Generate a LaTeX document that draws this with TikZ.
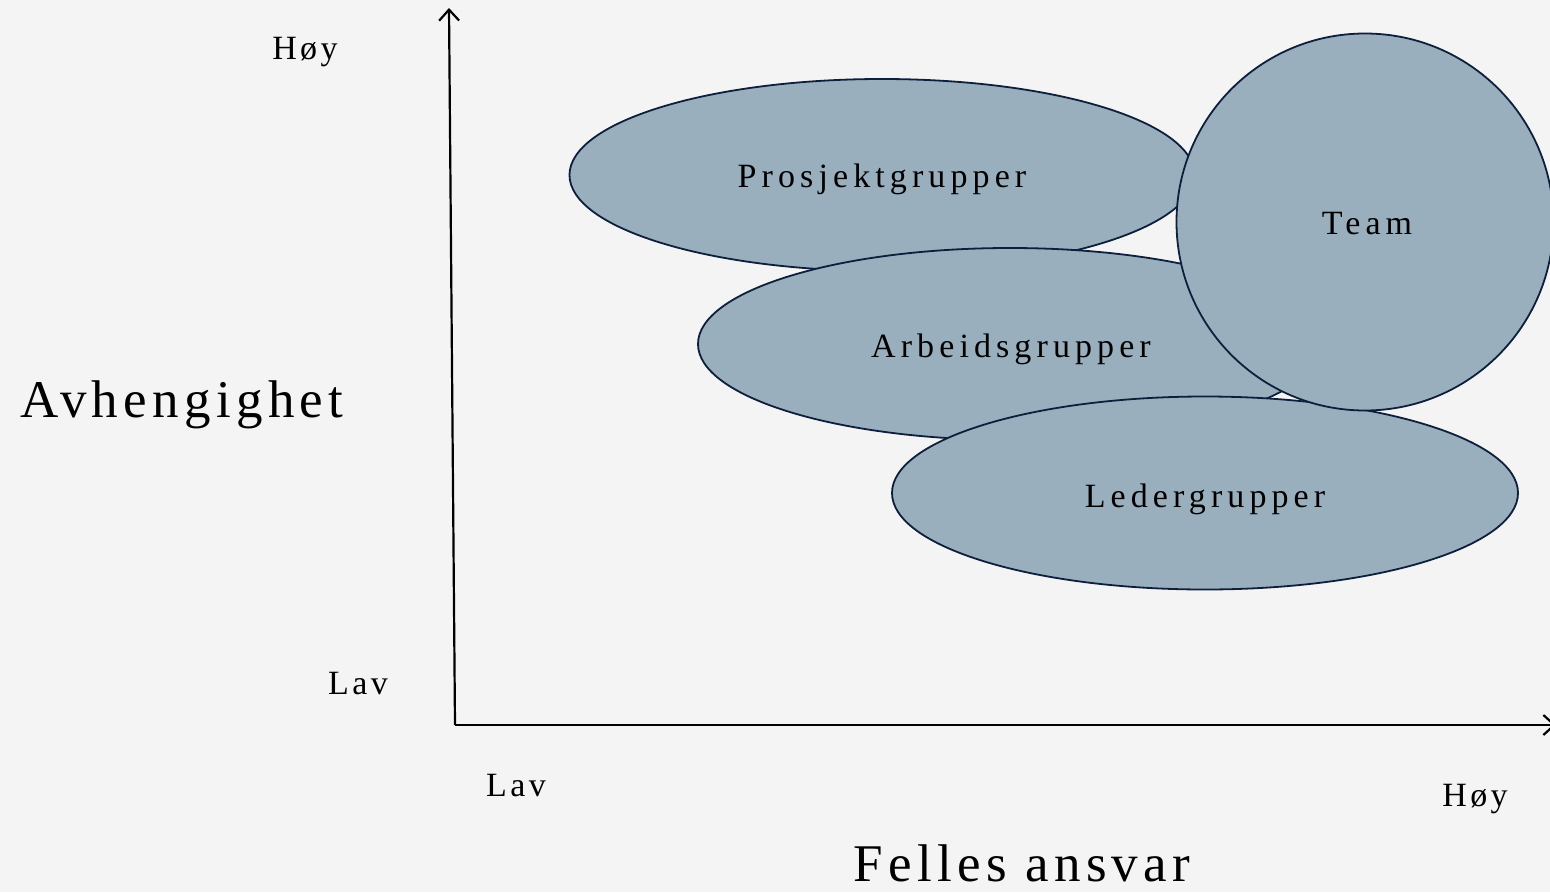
\documentclass[tikz,border=0pt]{standalone}
\usepackage{fontspec}
\setmainfont{Liberation Serif}
\usetikzlibrary{shapes.geometric,arrows.meta}
\definecolor{bg}{HTML}{F4F4F4}
\definecolor{blobfill}{HTML}{9AAFBD}
\definecolor{blobline}{HTML}{0D1F3C}
\tikzset{
  blob/.style={ellipse, draw=blobline, fill=blobfill, line width=1.8pt, inner sep=0pt},
  bloblbl/.style={anchor=base, inner sep=0pt, font=\fontsize{34}{40}\selectfont\addfontfeature{LetterSpace=15}},
  axislbl/.style={anchor=base, inner sep=0pt, font=\fontsize{34}{40}\selectfont\addfontfeature{LetterSpace=10}},
  bigtitle/.style={anchor=base, inner sep=0pt, font=\fontsize{53}{60}\selectfont\addfontfeature{LetterSpace=10}},
  axisline/.style={line width=2.2pt, black, -{Straight Barb[length=11pt,width=20pt,line width=2.2pt]}}
}
\begin{document}
\begin{tikzpicture}[x=1pt,y=-1pt]
\useasboundingbox (0,0) rectangle (1550,892);
\fill[bg] (0,0) rectangle (1550,892);
% axes
\coordinate (o) at (455,725);
\coordinate (ytop) at (449,8);
\coordinate (xend) at (1556,725);
\draw[axisline] (o) -- (ytop);
\draw[axisline] (o) -- (xend);
% blobs
\node[blob, minimum width=625pt, minimum height=192pt] (pros) at (882,175) {};
\node[blob, minimum width=624pt, minimum height=192pt] (arb) at (1010,344) {};
\node[blob, minimum width=626pt, minimum height=193pt] (led) at (1205,493) {};
\node[blob, circle, minimum size=377pt] (team) at (1365,222) {};
% blob labels
\node[bloblbl] (tpros) at (882,187) {Prosjektgrupper};
\node[bloblbl] (tarb) at (1011,357) {Arbeidsgrupper};
\node[bloblbl] (tled) at (1205,507) {Ledergrupper};
\node[bloblbl] (tteam) at (1367,234) {Team};
% axis labels
\node[axislbl] (yhigh) at (305,59) {Høy};
\node[axislbl] (ylow) at (358,694) {Lav};
\node[axislbl] (xlow) at (516,796) {Lav};
\node[axislbl] (xhigh) at (1475,806) {Høy};
\node[bigtitle] (ytitle) at (182,417) {Avhengighet};
\node[bigtitle] (xtitle) at (1022,881) {Felles ansvar};
\end{tikzpicture}
\end{document}
